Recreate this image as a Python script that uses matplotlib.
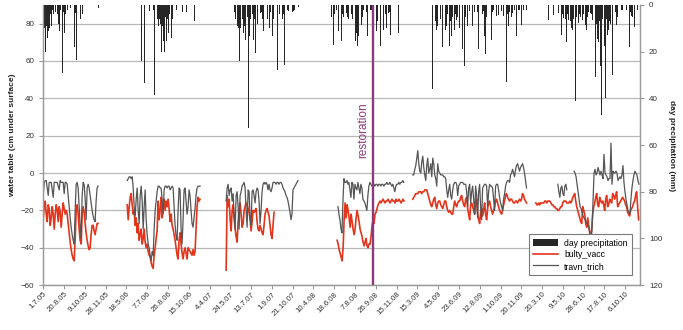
import numpy as np
import matplotlib
matplotlib.use("Agg")
import matplotlib.pyplot as plt

plt.rcParams['font.family'] = ['Liberation Sans', 'DejaVu Sans']

# x axis: one label every 50 rows (winter rows are missing, so dates jump)
date_labels = ["1.7.05", "20.8.05", "9.10.05", "28.11.05", "18.5.06", "7.7.06", "26.8.06",
               "15.10.06", "4.4.07", "24.5.07", "13.7.07", "1.9.07", "21.10.07", "10.4.08",
               "18.6.08", "7.8.08", "26.9.08", "15.11.08", "15.3.09", "4.5.09", "23.6.09",
               "12.8.09", "1.10.09", "20.11.09", "20.3.10", "9.5.10", "28.6.10", "17.8.10",
               "6.10.10"]
n_rows = 1436
restoration_row = 793

# water table (cm, negative = below surface), read every ~2.4 rows
step = 2.4

# bulty_vacc
bv_start = [0, 202, 440, 707, 889, 1185]
bv_05 = [-25, -18, -15, -22, -26, -17, -19, -28, -24, -18, -22, -30, -22, -17, -20, -26, -18, -21,
         -29, -22, -16, -19, -22, -20, -22, -27, -32, -37, -41, -44, -46, -47, -35, -20, -17, -22,
         -30, -36, -38, -22, -18, -21, -27, -32, -36, -39, -41, -40, -33, -28, -28, -31, -33, -30,
         -27, -27]
bv_06 = [-17, -25, -18, -13, -11, -17, -22, -20, -28, -24, -32, -27, -36, -33, -30, -38, -35, -30,
         -37, -40, -38, -42, -44, -45, -48, -50, -51, -44, -40, -35, -31, -15, -25, -20, -13, -24,
         -18, -14, -20, -15, -18, -14, -19, -26, -22, -28, -30, -33, -36, -40, -44, -46, -36, -32,
         -38, -43, -46, -42, -40, -43, -46, -40, -41, -42, -43, -44, -41, -44, -42, -30, -18, -13,
         -15, -14]
bv_07 = [-52, -12, -18, -14, -25, -31, -20, -17, -24, -30, -34, -37, -26, -20, -16, -22, -29, -27,
         -20, -18, -16, -17, -19, -21, -25, -31, -26, -20, -21, -20, -19, -26, -30, -31, -28, -30,
         -32, -33, -28, -22, -20, -19, -21, -23, -28, -33, -35, -28, -21]
bv_08 = [-36, -38, -41, -43, -45, -47, -40, -25, -16, -24, -17, -20, -24, -29, -22, -26, -30, -33,
         -30, -24, -20, -23, -26, -30, -32, -34, -37, -39, -37, -35, -39, -40, -38, -38, -34, -28,
         -25, -27, -22, -21, -19, -17, -16, -15, -16, -15, -14, -15, -16, -15, -15, -14, -15, -16,
         -15, -14, -15, -15, -16, -14, -15, -15, -14, -15, -16, -15, -14, -15]
bv_09 = [-14, -13, -12, -11, -11, -11, -10, -10, -10, -11, -10, -10, -9, -9, -9, -11, -13, -15,
         -17, -18, -16, -14, -13, -17, -19, -16, -15, -15, -17, -18, -19, -17, -15, -15, -18, -20,
         -21, -20, -21, -22, -22, -18, -15, -17, -18, -16, -15, -15, -13, -12, -15, -17, -18, -14,
         -13, -19, -22, -25, -17, -16, -18, -20, -22, -16, -14, -22, -25, -27, -21, -19, -23, -20,
         -16, -22, -25, -19, -16, -15, -18, -20, -22, -20, -18, -15, -14, -16, -18, -20, -21, -22,
         -20, -17, -15, -12, -11, -13, -14, -15, -14, -14, -15, -16, -16, -15, -15, -16, -15, -14,
         -15, -14, -11, -12, -14, -15, -16]
bv_10 = [-16, -17, -17, -16, -17, -16, -16, -16, -16, -15, -15, -16, -15, -15, -15, -16, -17, -17,
         -18, -18, -19, -19, -20, -20, -19, -18, -18, -16, -15, -15, -15, -16, -16, -16, -15, -16,
         -15, -13, -12, -11, -15, -18, -20, -22, -24, -26, -27, -18, -20, -22, -27, -29, -24, -28,
         -32, -36, -30, -22, -18, -16, -13, -11, -17, -18, -13, -15, -16, -15, -17, -20, -14, -12,
         -18, -17, -14, -15, -16, -11, -12, -14, -12, -10, -18, -17, -16, -15, -14, -13, -14, -15,
         -17, -18, -21, -22, -23, -20, -19, -18, -16, -15, -12, -10, -18, -25]

# travn_trich
tt_start = [0, 202, 440, 709, 889, 1238, 1277]
tt_05 = [-12, -5, -4, -4, -8, -12, -5, -5, -5, -9, -13, -5, -5, -5, -5, -7, -9, -4, -5, -5, -5,
         -11, -5, -5, -6, -12, -18, -24, -29, -33, -36, -38, -20, -6, -5, -8, -18, -28, -35, -12,
         -5, -6, -14, -25, -8, -6, -8, -12, -16, -20, -23, -25, -26, -15, -8, -7]
tt_06 = [-4, -3, -2, -2, -3, -2, -8, -18, -23, -14, -8, -20, -27, -12, -7, -15, -30, -18, -9, -25,
         -33, -38, -40, -44, -47, -42, -44, -30, -20, -15, -10, -7, -7, -8, -8, -14, -22, -9, -7,
         -7, -8, -7, -7, -9, -8, -7, -8, -18, -28, -34, -36, -20, -8, -9, -30, -38, -25, -9, -8,
         -15, -22, -18, -9, -12, -20, -27, -29, -24, -19, -12, -8, -7, -7, -7]
tt_07 = [-15, -8, -6, -12, -9, -8, -15, -11, -23, -30, -12, -10, -18, -30, -12, -10, -7, -6, -5,
         -8, -20, -29, -9, -10, -24, -28, -10, -9, -12, -16, -10, -8, -9, -15, -27, -20, -10, -6,
         -5, -6, -5, -6, -9, -6, -9, -10, -8, -5, -5, -5, -6, -5, -5, -6, -5, -5, -6, -8, -9, -10,
         -12, -13, -15, -18, -21, -25, -22, -9, -8, -7, -6, -5, -4]
tt_08 = [-18, -22, -25, -30, -32, -15, -3, -5, -5, -4, -6, -5, -9, -13, -5, -6, -14, -6, -8, -9,
         -5, -8, -11, -6, -8, -14, -15, -16, -18, -20, -12, -7, -5, -6, -7, -7, -6, -7, -6, -6, -7,
         -6, -6, -7, -6, -6, -7, -6, -6, -5, -6, -6, -5, -6, -7, -6, -8, -10, -7, -6, -6, -5, -6,
         -5, -5, -4, -5]
tt_09 = [-1, -1, 2, 4, 8, 12, 5, 1, 0, 6, 9, 3, -1, -4, 4, 8, 0, 2, 5, -2, 8, 5, -1, -3, -7, 5, 1,
         0, -1, -1, -1, -2, -2, -3, -9, -13, -9, -6, -12, -14, -9, -6, -5, -5, -6, -12, -7, -6, -5,
         -5, -5, -6, -6, -6, -10, -18, -8, -6, -16, -10, -7, -14, -22, -7, -12, -24, -10, -6, -18,
         -25, -8, -7, -6, -6, -7, -18, -10, -6, -7, -7, -8, -14, -20, -7, -6, -6, -9, -13, -16,
         -18, -20, -14, -11, -7, -5, -4, -4, -5, -1, 0, 2, 0, -2, 2, 4, 5, 3, 1, 3, 4, 5, 3, 0, -4,
         -8]
tt_10a = [-6, -10, -13, -8, -7, -11, -12, -7, -6, -9]
tt_10b = [1, 0, -2, -6, -10, -14, -18, -19, -21, -23, -24, -25, -26, -27, -28, -30, -32, -35, -30,
          -15, 0, 2, -1, 0, 3, 1, -1, 1, -1, -3, 10, 0, -1, -2, -4, -3, -3, 16, -6, 1, 0, 0, 1, 0,
          -4, -3, -2, -3, -1, 4, -5, -10, -14, -17, -20, -21, -22, -14, -8, -4, -1, 1, 0, -1, -4,
          -6]

# day precipitation (row, mm)
rain_05 = [(0, 12), (1, 18), (2, 19), (3, 10), (4, 15), (5, 16), (6, 20), (7, 14), (8, 9), (9, 24),
           (10, 14), (11, 17), (12, 8), (13, 11), (14, 6), (15, 10), (16, 5), (17, 4), (18, 3),
           (19, 7), (20, 9), (21, 3), (22, 2), (23, 5), (25, 4), (26, 2), (28, 6), (30, 3),
           (31, 32), (33, 15), (35, 4), (37, 8), (39, 11), (41, 2), (43, 2), (45, 5), (47, 29),
           (49, 3), (51, 12), (53, 4), (55, 28.5), (57, 1), (59, 2), (65, 1.5), (75, 18),
           (78, 3.5), (80, 23.5), (89, 6), (91, 7), (94, 4), (115, 13.5), (125, 2.5), (129, 3),
           (133, 1.5)]
rain_06 = [(233, 6), (237, 24), (240, 4), (244, 33.5), (247, 3), (250, 5), (252, 14), (256, 2.5),
           (259, 2), (262, 3), (265, 2), (268, 38.5), (271, 16), (274, 13.5), (275, 6), (277, 9),
           (280, 6), (282, 8), (283, 40.6), (285, 20), (287, 9), (289, 15.5), (290, 7), (292, 20),
           (294, 5), (295, 10), (297, 15.5), (299, 6), (300, 11.5), (302, 12), (304, 4), (305, 26),
           (308, 14), (311, 6), (320, 2), (327, 13.5), (329, 11), (335, 3), (341, 15), (344, 3),
           (348, 2), (353, 1.5), (358, 2), (364, 7), (367, 19), (370, 4), (372, 3), (375, 21),
           (377, 10)]
rain_07 = [(459, 4), (460, 3), (462, 6), (464, 5), (466, 8), (468, 9), (470, 10), (472, 24),
           (473, 7), (475, 10), (476, 5), (478, 8), (480, 6), (482, 12), (484, 9), (486, 4),
           (487, 15), (490, 9), (492, 5), (494, 52.7), (496, 13.5), (498, 3), (499, 6), (502, 11),
           (504, 4), (506, 15), (508, 6), (510, 20.5), (512, 13.5), (515, 8), (517, 5), (519, 17.7),
           (521, 4), (523, 3.5), (525, 3), (527, 6), (528, 5), (530, 11), (533, 9), (536, 9),
           (539, 6), (541, 4), (544, 10), (547, 3), (550, 11), (552, 13.5), (554, 6), (555, 25),
           (558, 47), (560, 25), (562, 5), (563, 28), (565, 7), (567, 27), (569, 4), (570, 30),
           (572, 12), (574, 3), (576, 6), (578, 4), (580, 25.6), (584, 3.5), (587, 2), (590, 2.5),
           (594, 1), (596, 2), (598, 17), (600, 3), (602, 2.5), (604, 2), (606, 8.5), (608, 3),
           (610, 2.5), (614, 1), (620, 36)]
rain_08 = [(690, 3.5), (694, 5), (698, 17), (700, 4), (702, 6), (706, 2), (710, 11), (714, 1.5),
           (716, 3), (718, 15.6), (720, 4), (722, 5), (726, 2), (730, 3.5), (732, 5), (734, 6),
           (736, 3), (738, 2), (740, 5), (742, 4), (744, 6), (745, 10), (748, 13.5), (750, 7),
           (751, 15.6), (753, 5), (754, 12), (756, 17.7), (757, 8), (759, 13.5), (762, 14.6),
           (764, 4), (766, 8.5), (768, 5), (770, 2), (774, 6), (777, 3), (780, 13.5), (784, 3.5),
           (787, 2), (790, 2), (793, 3), (796, 8), (798, 6), (800, 13.5), (802, 11), (804, 7),
           (805, 16.4), (808, 32), (810, 5), (812, 17.7), (815, 13.5), (818, 10.7), (820, 6),
           (822, 26.3), (824, 4), (826, 10), (830, 3.5), (833, 3), (836, 12.7), (841, 2),
           (846, 1.5), (854, 12)]
rain_09 = [(937, 36), (940, 4), (942, 6), (944, 7), (946, 10.7), (948, 9), (950, 16.4), (952, 8),
           (954, 19), (956, 6), (957, 36), (960, 18), (962, 8), (964, 12), (966, 5), (967, 10.7),
           (970, 9.2), (972, 4), (974, 6.3), (976, 5), (978, 17.7), (980, 7), (982, 13.5), (984, 5),
           (986, 9.2), (988, 6), (990, 10.7), (992, 4), (994, 6.3), (996, 5), (998, 8.5), (1000, 6),
           (1002, 9.9), (1005, 44), (1008, 19), (1010, 16.4), (1012, 7), (1014, 26), (1016, 5),
           (1017, 14.6), (1020, 9.2), (1022, 7.8), (1024, 4), (1026, 2.8), (1029, 45), (1032, 9.2),
           (1034, 6.3), (1037, 3), (1039, 6.3), (1041, 2), (1043, 4.9), (1045, 3), (1047, 19),
           (1051, 4.9), (1053, 3), (1055, 16), (1057, 4), (1059, 2.8), (1061, 13.5), (1064, 21),
           (1066, 5), (1068, 3.5), (1070, 3), (1072, 7.8), (1075, 5.6), (1077, 2), (1079, 15),
           (1081, 3), (1083, 2), (1087, 9.2), (1089, 3), (1091, 4.9), (1095, 4.2), (1099, 2),
           (1101, 2), (1103, 2.8), (1107, 4.9), (1111, 4.2), (1113, 3), (1115, 32.8), (1117, 4),
           (1119, 9.2), (1121, 3), (1123, 6.3), (1125, 19), (1127, 5), (1129, 3.5), (1133, 2),
           (1135, 5.6), (1137, 3), (1139, 13.5), (1143, 2), (1145, 2), (1147, 4.2), (1149, 3),
           (1151, 8.5), (1155, 2), (1159, 45.6), (1163, 2)]
rain_10 = [(1215, 6.3), (1219, 3.5), (1227, 4.2), (1233, 2), (1239, 3.5), (1243, 5.6), (1247, 12.7),
           (1249, 4), (1251, 5.6), (1253, 3), (1255, 8.5), (1257, 6), (1259, 16), (1261, 4),
           (1263, 6.3), (1265, 5), (1267, 9.2), (1269, 7), (1271, 9.9), (1273, 10.7), (1275, 6),
           (1277, 16.4), (1279, 19.6), (1281, 41.3), (1283, 5), (1284, 9.2), (1286, 6), (1288, 7.8),
           (1290, 4), (1291, 6.3), (1293, 5), (1294, 12), (1297, 6.3), (1299, 4), (1301, 7),
           (1303, 5), (1304, 8.5), (1306, 6), (1307, 10.7), (1309, 5), (1310, 9.2), (1312, 3),
           (1313, 4.9), (1315, 2), (1317, 3.5), (1319, 4), (1321, 6.3), (1323, 71), (1325, 19.6),
           (1327, 25), (1329, 31), (1331, 8), (1333, 14.6), (1335, 9), (1336, 16), (1338, 7),
           (1339, 19.6), (1341, 26), (1343, 47), (1345, 6), (1347, 13.5), (1349, 8), (1350, 17.7),
           (1352, 7), (1353, 40), (1355, 6), (1357, 12.7), (1359, 5), (1360, 10.7), (1362, 7),
           (1363, 22), (1365, 8), (1366, 28.5), (1368, 6), (1369, 30), (1371, 12), (1373, 4),
           (1375, 5.6), (1377, 3), (1379, 8.5), (1381, 5), (1383, 15), (1385, 2), (1387, 3.5),
           (1391, 2), (1393, 2), (1395, 5.6), (1397, 3), (1399, 18.6), (1403, 2), (1411, 18),
           (1413, 3), (1415, 4.9), (1417, 5), (1419, 6.3), (1421, 4), (1422, 9.4), (1424, 5),
           (1426, 3.5), (1430, 2), (1433, 3.5)]

red = '#e3351c'
grey = '#555555'
purple = '#8c3a7e'
axis_grey = '#9a9a9a'
text_col = '#333333'

fig = plt.figure(figsize=(6.83, 3.30), dpi=100)
ax = fig.add_axes([0.063, 0.136, 0.874, 0.849])
ax2 = ax.twinx()

# precipitation bars hanging from the top (secondary axis, inverted)
rain = rain_05 + rain_06 + rain_07 + rain_08 + rain_09 + rain_10
rain_day = [r[0] for r in rain]
rain_mm = [r[1] for r in rain]
bars = ax2.bar(rain_day, rain_mm, width=1.4, color='#262626', linewidth=0,
               label='day precipitation')

# water table lines
bv_segs = [bv_05, bv_06, bv_07, bv_08, bv_09, bv_10]
tt_segs = [tt_05, tt_06, tt_07, tt_08, tt_09, tt_10a, tt_10b]
for start, vals in zip(bv_start, bv_segs):
    days = start + np.arange(len(vals)) * step
    line_bv, = ax.plot(days, vals, color=red, lw=1.2, label='bulty_vacc')
for start, vals in zip(tt_start, tt_segs):
    days = start + np.arange(len(vals)) * step
    line_tt, = ax.plot(days, vals, color=grey, lw=0.9, label='travn_trich')

# restoration marker
ax2.axvline(restoration_row, color=purple, lw=1.7, zorder=5)
ax.text(restoration_row - 24, 23, 'restoration', rotation=90, color=purple,
        fontsize=8.5, ha='center', va='center')

ax.set_xlim(-0.5, n_rows - 0.5)
ax.set_ylim(-60, 90)
ax.set_yticks(range(-60, 81, 20))
ax2.set_ylim(120, 0)
ax2.set_yticks(range(0, 121, 20))
ax.set_xticks(np.arange(len(date_labels)) * 50)
ax.set_xticklabels(date_labels, rotation=45, ha='right', rotation_mode='anchor')

ax.yaxis.grid(True, color='#b8b8b8', lw=0.9)
ax.set_axisbelow(True)

for a in (ax, ax2):
    a.spines['top'].set_visible(False)
    for s in ('left', 'right', 'bottom'):
        a.spines[s].set_color(axis_grey)
        a.spines[s].set_linewidth(0.9)
    a.tick_params(colors=axis_grey, labelcolor=text_col, labelsize=5.8, length=3, width=0.8)
ax.tick_params(axis='x', labelsize=5.6, pad=1)

fig.text(0.018, 0.59, 'water table (cm under surface)', rotation=90, fontsize=6,
         fontweight='bold', ha='center', va='center', color='#222222')
fig.text(0.983, 0.56, 'day precipitation (mm)', rotation=270, fontsize=6,
         fontweight='bold', ha='center', va='center', color='#222222')

leg = ax2.legend([bars, line_bv, line_tt], ['day precipitation', 'bulty_vacc', 'travn_trich'],
                 loc='lower right', bbox_to_anchor=(0.987, 0.036), fontsize=6.2,
                 fancybox=False, framealpha=1, edgecolor='#7a7a7a', borderpad=0.5,
                 handlelength=2.8, handleheight=0.9, labelspacing=0.3, borderaxespad=0)
leg.get_frame().set_linewidth(0.8)
leg.set_zorder(10)

fig.savefig('out.png', dpi=100)
